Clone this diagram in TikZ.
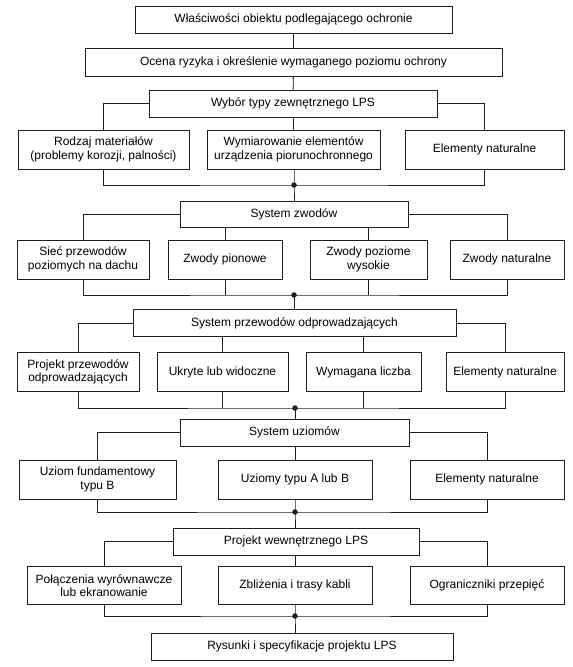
\documentclass[tikz,border=0pt]{standalone}
\usepackage{fontspec}
\setmainfont{Liberation Sans}
\definecolor{linec}{RGB}{30,30,30}
\newcommand\BX[6]{\node[box,minimum width=#4pt,minimum height=#5pt] (#1) at (#2,#3) {#6};}
\begin{document}
\begin{tikzpicture}[x=1pt,y=-1pt,
  box/.style={draw=linec,line width=0.9pt,fill=white,align=center,inner sep=0pt,
    font=\fontsize{12}{13.5}\selectfont},
  conn/.style={draw=linec,line width=0.9pt},
  jdot/.style={circle,fill=linec,inner sep=0pt,minimum size=5.5pt}]
\useasboundingbox (0,0) rectangle (573,667);
\fill[white] (0,0) rectangle (573,667);
% boxes
\BX{b1}{293.5}{19.5}{317}{27}{Właściwości obiektu podlegającego ochronie}
\BX{b2}{293.5}{62}{417}{28}{Ocena ryzyka i określenie wymaganego poziomu ochrony}
\BX{b3}{293}{103.5}{288}{27}{Wybór typy zewnętrznego LPS}
\BX{r1a}{103.5}{149.5}{171}{39}{Rodzaj materiałów\\(problemy korozji, palności)}
\BX{r1b}{293.5}{149.5}{173}{39}{Wymiarowanie elementów\\urządzenia piorunochronnego}
\BX{r1c}{484.5}{149.5}{159}{39}{Elementy naturalne}
\BX{sz}{294}{214}{228}{26}{System zwodów}
\BX{r2a}{83}{259.5}{132}{39}{Sieć przewodów\\poziomych na dachu}
\BX{r2b}{225}{259.5}{114}{39}{Zwody pionowe}
\BX{r2c}{368.5}{259.5}{117}{39}{Zwody poziome\\wysokie}
\BX{r2d}{507}{259.5}{114}{39}{Zwody naturalne}
\BX{spo}{294.5}{323}{323}{27}{System przewodów odprowadzających}
\BX{r3a}{78}{372}{122}{39}{Projekt przewodów\\odprowadzających}
\BX{r3b}{222.5}{372}{131}{39}{Ukryte lub widoczne}
\BX{r3c}{363.5}{372}{115}{39}{Wymagana liczba}
\BX{r3d}{505}{372}{118}{39}{Elementy naturalne}
\BX{su}{294.5}{432.5}{229}{27}{System uziomów}
\BX{r4a}{97.5}{479.5}{157}{39}{Uziom fundamentowy\\typu B}
\BX{r4b}{295}{479.5}{154}{39}{Uziomy typu A lub B}
\BX{r4c}{487}{479.5}{154}{39}{Elementy naturalne}
\BX{pw}{296}{541.5}{246}{27}{Projekt wewnętrznego LPS}
\BX{r5a}{104}{585.5}{154}{38}{Połączenia wyrównawcze\\lub ekranowanie}
\BX{r5b}{295}{585.5}{154}{38}{Zbliżenia i trasy kabli}
\BX{r5c}{487}{585.5}{154}{38}{Ograniczniki przepięć}
\BX{rys}{302}{646.5}{302}{27}{Rysunki i specyfikacje projektu LPS}
% junctions
\coordinate (j1) at (294,185);
\coordinate (j2) at (294,295);
\coordinate (j3) at (295,408);
\coordinate (j4) at (295,512);
\coordinate (j5) at (295,616);
% stage 1
\draw[conn] (b1) -- (b2);
\draw[conn] (b2) -- (b3);
\draw[conn] (b3.west) -| (r1a.north);
\draw[conn] (b3.east) -| (r1c.north);
\draw[conn] (r1b.north) -- (r1b.north |- b3.south);
\draw[conn] (r1a.south) |- (j1) -| (r1c.south);
\draw[conn] (j1 |- r1b.south) -- (j1) -- (j1 |- sz.north);
% stage 2
\draw[conn] (sz.west) -| (r2a.north);
\draw[conn] (sz.east) -| (r2d.north);
\draw[conn] (r2b.north) -- (r2b.north |- sz.south);
\draw[conn] (r2c.north) -- (r2c.north |- sz.south);
\draw[conn] (r2a.south) |- (j2) -| (r2d.south);
\draw[conn] (r2b.south) -- (r2b.south |- j2);
\draw[conn] (r2c.south) -- (r2c.south |- j2);
\draw[conn] (j2) -- (j2 |- spo.north);
% stage 3
\draw[conn] (spo.west) -| (r3a.north);
\draw[conn] (spo.east) -| (r3d.north);
\draw[conn] (r3b.north) -- (r3b.north |- spo.south);
\draw[conn] (r3c.north) -- (r3c.north |- spo.south);
\draw[conn] (r3a.south) |- (j3) -| (r3d.south);
\draw[conn] (r3b.south) -- (r3b.south |- j3);
\draw[conn] (r3c.south) -- (r3c.south |- j3);
\draw[conn] (j3) -- (j3 |- su.north);
% stage 4
\draw[conn] (su.west) -| (r4a.north);
\draw[conn] (su.east) -| (r4c.north);
\draw[conn] (r4b.north) -- (r4b.north |- su.south);
\draw[conn] (r4a.south) |- (j4) -| (r4c.south);
\draw[conn] (j4 |- r4b.south) -- (j4) -- (j4 |- pw.north);
% stage 5
\draw[conn] (pw.west) -| (r5a.north);
\draw[conn] (pw.east) -| (r5c.north);
\draw[conn] (r5b.north) -- (r5b.north |- pw.south);
\draw[conn] (r5a.south) |- (j5) -| (r5c.south);
\draw[conn] (j5 |- r5b.south) -- (j5) -- (j5 |- rys.north);
% dots
\foreach \j in {j1,j2,j3,j4,j5} \node[jdot] at (\j) {};
\end{tikzpicture}
\end{document}
